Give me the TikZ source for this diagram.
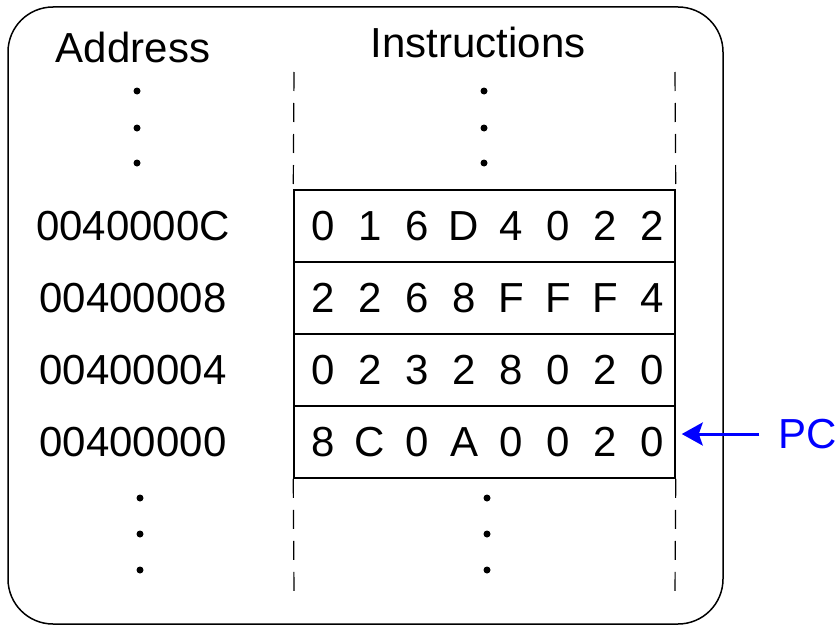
\documentclass[tikz,border=0pt]{standalone}
\usepackage{fontspec}
\setmainfont{Liberation Sans}
\usetikzlibrary{arrows.meta}
\begin{document}
\begin{tikzpicture}[x=1pt, y=-1pt, font=\fontsize{42}{50}\selectfont,
    cell/.style={draw, line width=1.5pt, minimum width=381pt, minimum height=72pt, inner sep=0pt},
    dot/.style={circle, fill, inner sep=0pt, minimum size=7pt},
    guide/.style={line width=1.2pt, dash pattern=on 19pt off 12pt}]
        \useasboundingbox (0,0) rectangle (840,626);
        \draw[line width=1.5pt, rounded corners=45pt] (8,7) rectangle (723,624);

        \node (addrhead) at (133,47) {Address};
        \node (instrhead) at (478,42) {Instructions};

        % memory words, top row first
        \foreach \i/\addr/\word in {0/0040000C/{0,1,6,D,4,0,2,2},
                                    1/00400008/{2,2,6,8,F,F,F,4},
                                    2/00400004/{0,2,3,2,8,0,2,0},
                                    3/00400000/{8,C,0,A,0,0,2,0}} {
            \node[cell] (row\i) at (484.5,226+72*\i) {};
            \node (addr\i) at (133,226+72*\i) {\addr};
            \foreach \d [count=\k] in \word {
                \node (d\i\k) at (323+47*\k-47,226+72*\i) {\d};
            }
        }

        % dashed guides
        \coordinate (gtl) at (294,72);
        \coordinate (gtr) at (675,72);
        \coordinate (gbl) at (294,593);
        \coordinate (gbr) at (675,593);
        \draw[guide] (gtl) -- (row0.north west);
        \draw[guide] (gtr) -- (row0.north east);
        \draw[guide] (row3.south west) -- (gbl);
        \draw[guide] (row3.south east) -- (gbr);

        % dots
        \foreach \y [count=\n] in {91,128,163} {
            \node[dot] (atop\n) at (137,\y) {};
            \node[dot] (itop\n) at (484,\y) {};
        }
        \foreach \y [count=\n] in {498,534,570} {
            \node[dot] (abot\n) at (140,\y) {};
            \node[dot] (ibot\n) at (487,\y) {};
        }

        \node[blue] (pc) at (808,434) {PC};
        \draw[blue, line width=3pt, -{Stealth[length=21pt,width=23pt,inset=4pt]}, shorten >=6pt, shorten <=16pt]
            (pc.west) -- (pc.west -| row3.east);
    \end{tikzpicture}
\end{document}
